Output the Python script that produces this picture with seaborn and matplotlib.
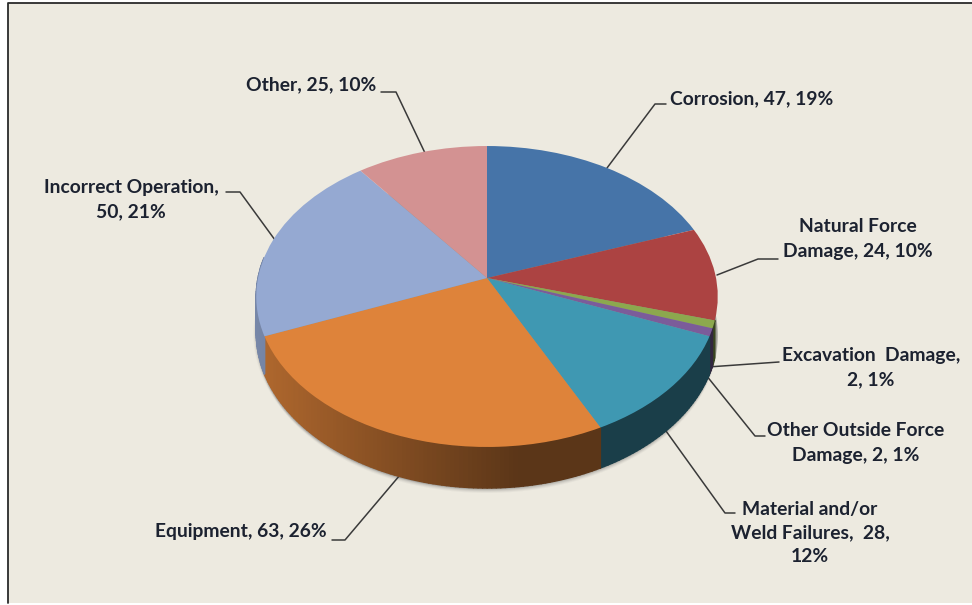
import numpy as np
import matplotlib
matplotlib.use("Agg")
import matplotlib.pyplot as plt
import seaborn as sns
from matplotlib.collections import PolyCollection
from matplotlib.patches import Rectangle
from matplotlib.transforms import Transform

categories = ["Corrosion", "Natural Force Damage", "Excavation Damage",
              "Other Outside Force Damage", "Material and/or Weld Failures",
              "Equipment", "Incorrect Operation", "Other"]
values = [47, 24, 2, 2, 28, 63, 50, 25]
percents = [19, 10, 1, 1, 12, 26, 21, 10]
label_texts = [
    "Corrosion, 47, 19%",
    "Natural Force\nDamage, 24, 10%",
    "Excavation  Damage,\n2, 1%",
    "Other Outside Force\nDamage, 2, 1%",
    "Material and/or\nWeld Failures,  28,\n12%",
    "Equipment, 63, 26%",
    "Incorrect Operation,\n50, 21%",
    "Other, 25, 10%",
]
colors = ["#4674A8", "#AC4342", "#8CA84E", "#7B5C9A",
          "#3F98B2", "#DE833A", "#95A9D2", "#D39292"]

# layout, in pixels of the output picture
WIDTH, HEIGHT = 972, 605
APEX_X, APEX_Y = 487, 278
SCALE_X, SCALE_Y, TILT = 229, 148.2, 0.1229
DEPTH = 36
BG = "#EDEAE0"
TEXT_COLOR = "#1C2230"

label_pos = [(670, 99, "left"), (858, 239, "center"), (871, 368, "center"),
             (856, 443, "center"), (810, 533, "center"), (241, 532, "center"),
             (131, 200, "center"), (311, 85, "center")]
leaders = [
    [(666, 104), (655, 104), (607, 168)],
    [(778, 259), (758, 259), (717, 275)],
    [(779, 362), (708, 367)],
    [(765, 436), (755, 436), (706, 375)],
    [(735, 513), (725, 513), (666, 431)],
    [(332, 540), (345, 540), (400, 475)],
    [(226, 192), (240, 192), (275, 240)],
    [(381, 92), (396, 92), (425, 153)],
]


def project(x, y, drop=0.0):
    """Perspective view of the unit disc, the apex sits above the ellipse centre."""
    w = 1 + TILT * y
    return APEX_X + SCALE_X * x / w, APEX_Y - SCALE_Y * y / w + drop * DEPTH / w


class Perspective(Transform):
    input_dims = 2
    output_dims = 2

    def transform_non_affine(self, xy):
        xy = np.asarray(xy, dtype=float)
        px, py = project(xy[:, 0], xy[:, 1])
        return np.column_stack([px, py])


def rim(theta_deg, drop=0.0):
    t = np.radians(theta_deg)
    return project(np.cos(t), np.sin(t), drop)


def shade(px):
    # the side gets darker towards the right
    return np.interp(px, [257, 400, 520, 720], [0.80, 0.58, 0.41, 0.41])


def draw_side(ax, wedges):
    polys, faces = [], []
    for wedge, color in zip(wedges, colors):
        lo, hi = sorted((wedge.theta1 % 360, (wedge.theta2 % 360) or 360))
        if hi - lo > 300:
            continue
        rgb = np.array(matplotlib.colors.to_rgb(color))
        lo, hi = max(lo, 172), min(hi, 368)
        if hi <= lo:
            continue
        edges = np.arange(lo, hi + 1, 1.0)
        edges[-1] = hi
        for a, b in zip(edges[:-1], edges[1:]):
            xa, ya = rim(a)
            xb, yb = rim(b)
            xc, yc = rim(b, 1.0)
            xd, yd = rim(a, 1.0)
            polys.append([(xa, ya), (xb, yb), (xc, yc), (xd, yd)])
            faces.append(rgb * shade((xa + xb) / 2))
    ax.add_collection(PolyCollection(polys, facecolors=faces, edgecolors=faces,
                                     linewidths=1.0, zorder=0.8))


def draw_shadow(ax):
    t = np.linspace(0, 360, 241)
    px, py = rim(t, 1.0)
    for grow, alpha in zip([5, 4, 3, 2, 1], [0.04, 0.06, 0.08, 0.10, 0.12]):
        ax.fill(px, py + grow, color="#333333", alpha=alpha, lw=0, zorder=0.6)
        ax.fill(px - grow * 0.6, py + grow * 0.3, color="#333333", alpha=alpha * 0.5,
                lw=0, zorder=0.6)


def make_chart():
    sns.set_theme(style="white")
    plt.rcParams["font.family"] = ["Lato", "DejaVu Sans"]
    fig = plt.figure(figsize=(WIDTH / 100, HEIGHT / 100), dpi=100, facecolor="white")
    ax = fig.add_axes([0, 0, 1, 1])

    wedges, _ = ax.pie(values, colors=sns.color_palette(colors), startangle=90,
                       counterclock=False, radius=1, normalize=True,
                       wedgeprops={"edgecolor": "none", "linewidth": 0})
    ax.set_aspect("auto")
    ax.set_xlim(0, WIDTH)
    ax.set_ylim(HEIGHT, 0)
    ax.axis("off")

    flat = Perspective() + ax.transData
    for wedge in wedges:
        wedge.set_transform(flat)
        wedge.set_zorder(2)
        wedge.set_clip_on(False)

    # only the top and left edges of the frame are in the picture
    ax.add_patch(Rectangle((8, 3), WIDTH, HEIGHT - 5, facecolor=BG,
                           edgecolor="none", zorder=0))
    ax.plot([8, 8, WIDTH], [HEIGHT - 2, 3, 3], color="#2A2A2A", lw=1.3, zorder=0.1)
    draw_shadow(ax)
    draw_side(ax, wedges)

    for pts in leaders:
        xs, ys = zip(*pts)
        ax.plot(xs, ys, color="#3A3A3A", lw=1.1, zorder=0.7)

    for text, (x, y, ha) in zip(label_texts, label_pos):
        ax.text(x, y, text, ha=ha, va="center", ma="center", fontsize=13.9,
                fontweight="bold", color=TEXT_COLOR, linespacing=1.5, zorder=3)

    fig.savefig("out.png", dpi=100, facecolor="white")


if __name__ == "__main__":
    make_chart()
